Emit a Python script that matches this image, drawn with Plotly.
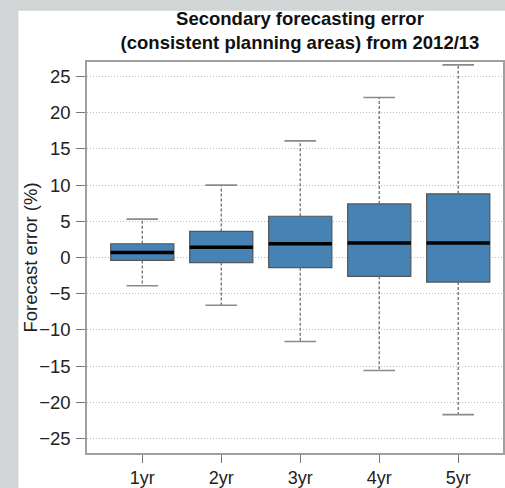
import plotly.graph_objects as go

# data
labels = ["1yr", "2yr", "3yr", "4yr", "5yr"]
positions = [1, 2, 3, 4, 5]
q1 = [-0.4, -0.7, -1.4, -2.6, -3.4]
median = [0.7, 1.4, 1.9, 2.0, 2.0]
q3 = [1.9, 3.6, 5.7, 7.4, 8.8]
lower = [-3.9, -6.6, -11.6, -15.6, -21.7]
upper = [5.3, 10.0, 16.1, 22.1, 26.6]

half_box = 0.4
half_cap = 0.2


def segments(xs, y0s, y1s, half=0.0):
    x, y = [], []
    for p, a, b in zip(xs, y0s, y1s):
        if half:
            x += [p - half, p + half, None]
            y += [a, a, None]
        else:
            x += [p, p, None]
            y += [a, b, None]
    return x, y


fig = go.Figure()

# dashed whiskers
wx1, wy1 = segments(positions, q3, upper)
wx2, wy2 = segments(positions, q1, lower)
fig.add_trace(go.Scatter(x=wx1 + wx2, y=wy1 + wy2, mode="lines",
                         line=dict(color="#6e6e6e", width=1.3, dash="3px,2px"),
                         hoverinfo="skip", showlegend=False))

# staples
cx1, cy1 = segments(positions, upper, upper, half_cap)
cx2, cy2 = segments(positions, lower, lower, half_cap)
fig.add_trace(go.Scatter(x=cx1 + cx2, y=cy1 + cy2, mode="lines",
                         line=dict(color="#8a8a8a", width=1.6),
                         hoverinfo="skip", showlegend=False))

# boxes
fig.add_trace(go.Bar(x=positions, y=[b - a for a, b in zip(q1, q3)], base=q1,
                     width=2 * half_box,
                     marker=dict(color="#4682B4", line=dict(color="#555555", width=1.2)),
                     hoverinfo="skip", showlegend=False))

# medians
mx, my = segments(positions, median, median, half_box)
fig.add_trace(go.Scatter(x=mx, y=my, mode="lines",
                         line=dict(color="black", width=3.5),
                         hoverinfo="skip", showlegend=False))

font = "Liberation Sans, Arial, Helvetica, sans-serif"
frame = "#d1d5d5"

fig.update_layout(
    width=505, height=488,
    margin=dict(l=87, r=0, t=62, b=29),
    paper_bgcolor="white",
    plot_bgcolor="white",
    font=dict(family=font, size=18, color="#222222"),
    title=dict(text="<b>Secondary forecasting error<br>(consistent planning areas) from 2012/13</b>",
               font=dict(size=18.5, color="#111111"),
               x=0.512, xref="paper", xanchor="center",
               y=0.948, yref="container", yanchor="top"),
    shapes=[
        dict(type="rect", xref="paper", yref="paper",
             x0=-0.25, x1=-0.165, y0=-0.1, y1=1.2,
             fillcolor=frame, line=dict(width=0), layer="below"),
        dict(type="rect", xref="paper", yref="paper",
             x0=-0.25, x1=1.1, y0=1.131, y1=1.2,
             fillcolor=frame, line=dict(width=0), layer="below"),
    ],
    annotations=[dict(text="Forecast error (%)", textangle=-90,
                      xref="paper", yref="paper", x=-0.137, y=0.5,
                      xanchor="center", yanchor="middle", showarrow=False,
                      font=dict(size=18.5, color="#222222"))],
    xaxis=dict(range=[0.3, 5.567], tickvals=positions, ticktext=labels,
               showgrid=False, zeroline=False,
               showline=True, mirror=True, linecolor="#a0a0a0", linewidth=1.5,
               ticks="outside", ticklen=8, tickcolor="#777777", tickwidth=1.2,
               ticklabelstandoff=0,
               tickfont=dict(size=18)),
    yaxis=dict(range=[-27, 27], tickvals=[-25, -20, -15, -10, -5, 0, 5, 10, 15, 20, 25],
               showgrid=True, gridcolor="#bdbdbd", griddash="1px,2px", gridwidth=1,
               zeroline=False,
               showline=True, mirror=True, linecolor="#a0a0a0", linewidth=1.5,
               ticks="outside", ticklen=9, tickcolor="#777777", tickwidth=1.2,
               ticklabelstandoff=2,
               tickfont=dict(size=18.5)),
)

fig.write_html("out.html", config={"displayModeBar": False},
               post_script="document.body.style.margin='0';document.body.style.overflow='hidden';"
                           "document.documentElement.style.overflow='hidden';")
